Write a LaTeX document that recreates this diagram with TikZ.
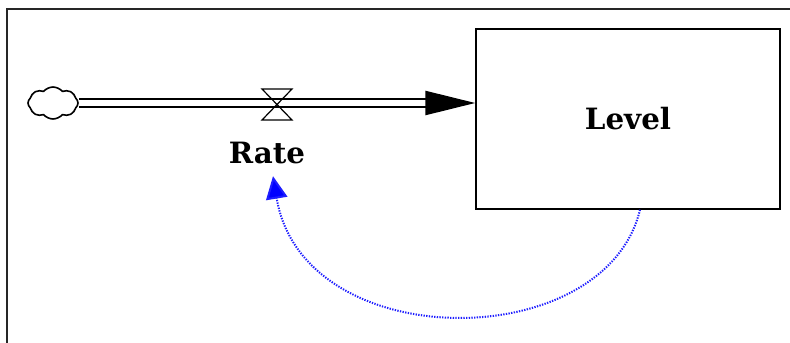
\documentclass[tikz,border=0pt]{standalone}
\usepackage{fontspec}
\setmainfont{DejaVu Serif}
\usetikzlibrary{arrows.meta,positioning,calc,shapes.symbols}
\definecolor{mylinkblue}{RGB}{30,30,255}
\tikzset{
  stockbox/.style={draw, line width=1.1pt, inner sep=0pt, minimum width=228pt, minimum height=135pt},
  flowpipe/.style={double, line width=1.8pt, double distance=3.8pt, -{Triangle[length=37.5pt, width=18pt]}},
  valveshape/.style={draw, line width=0.9pt},
  infolink/.style={draw=mylinkblue, line width=1.5pt, dash pattern=on 1pt off 1pt, -{Triangle[length=17pt, width=16pt, fill=blue]}}
}

\begin{document}
\begin{tikzpicture}[x=0.75pt, y=-0.75pt, every node/.style={font=\fontsize{22}{26}\selectfont\bfseries}]
  \useasboundingbox (0,0) rectangle (790,343);
  % Frame
  \draw[line width=1.1pt, black!85] (7,343) -- (7,9) -- (790,9);

  % Source, stock and rate
  \node[cloud, cloud puffs=8, cloud puff arc=100, aspect=1.6, draw, line width=1.2pt, minimum width=37.5pt, minimum height=24pt, inner sep=0pt] (source) at (53,103) {};
  \node[stockbox] (level) at (628,119) {Level};
  \node[inner sep=0pt] (rate) at (267,153) {Rate};
  \coordinate (valve) at (277,103);

  % Flow pipe
  \draw[flowpipe] (source.east) -- (valve) -- (source.east -| level.west);
  \draw[valveshape] ($(valve)+(-15,-14)$) -- ($(valve)+(15,-14)$) -- ($(valve)+(-15,17)$) -- ($(valve)+(15,17)$) -- cycle;

  % Feedback link
  \draw[infolink] ([xshift=9]level.south) .. controls +(-35,146) and +(30,180) .. ([shift={(6,12)}]rate.south);
\end{tikzpicture}
\end{document}
